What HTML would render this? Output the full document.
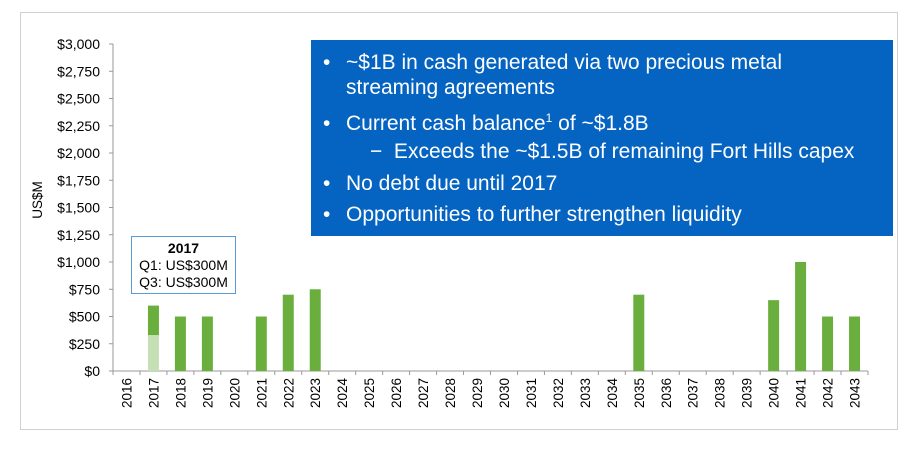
<!DOCTYPE html>
<html><head><meta charset="utf-8"><style>
body{margin:0;width:921px;height:456px;background:#fff;font-family:"Liberation Sans",Arial,sans-serif;overflow:hidden;position:relative}
#frame{position:absolute;left:20px;top:12px;width:876px;height:416px;border:1px solid #d0d0d0}
#info{position:absolute;left:311px;top:40px;width:582px;height:196px;background:#0563c1;color:#fff;font-size:21px;line-height:24px}
#info div{white-space:nowrap;position:absolute}
#info sup{font-size:12px;line-height:0;vertical-align:0;position:relative;top:-8px}
#note{position:absolute;left:131px;top:236px;width:105px;height:58px;border:1px solid #5b9bd5;font-size:14px;text-align:center;line-height:17px;box-sizing:border-box;padding-top:3px}
</style></head><body>
<div id="frame"></div>
<svg id="chart" width="921" height="456" style="position:absolute;left:0;top:0"></svg>
<div id="info">
<div style="left:12px;top:11px">•</div>
<div style="left:35px;top:11px">~$1B in cash generated via two precious metal</div>
<div style="left:35px;top:36px">streaming agreements</div>
<div style="left:12px;top:72px">•</div>
<div style="left:35px;top:72px">Current cash balance<sup>1</sup> of ~$1.8B</div>
<div style="left:59px;top:100px">−&nbsp;&nbsp;Exceeds the ~$1.5B of remaining Fort Hills capex</div>
<div style="left:12px;top:132px">•</div>
<div style="left:35px;top:132px">No debt due until 2017</div>
<div style="left:12px;top:163px">•</div>
<div style="left:35px;top:163px">Opportunities to further strengthen liquidity</div>
</div>
<div id="note"><b>2017</b><br>Q1: US$300M<br>Q3: US$300M</div>
<script>
const categories=["2016","2017","2018","2019","2020","2021","2022","2023","2024","2025","2026","2027","2028","2029","2030","2031","2032","2033","2034","2035","2036","2037","2038","2039","2040","2041","2042","2043"];
const lightValues=[0,330,0,0,0,0,0,0,0,0,0,0,0,0,0,0,0,0,0,0,0,0,0,0,0,0,0,0];
const darkValues=[0,270,500,500,0,500,700,750,0,0,0,0,0,0,0,0,0,0,0,700,0,0,0,0,650,1000,500,500];
const yTicks=[0,250,500,750,1000,1250,1500,1750,2000,2250,2500,2750,3000];
const yLabels=["$0","$250","$500","$750","$1,000","$1,250","$1,500","$1,750","$2,000","$2,250","$2,500","$2,750","$3,000"];
const svg=document.getElementById('chart');const NS='http://www.w3.org/2000/svg';
const x0=113,x1=868,yb=371,yt=44,yMax=3000;
const slot=(x1-x0)/categories.length;
const y=v=>yb-(v/yMax)*(yb-yt);
const xc=i=>x0+slot*(i+0.5);
function mk(t,a){const e=document.createElementNS(NS,t);for(const k in a)e.setAttribute(k,a[k]);svg.appendChild(e);return e;}
let ax=mk('line',{x1:x0,y1:yt,x2:x0,y2:yb,stroke:'#999'});


let bx=mk('line',{x1:x0,y1:yb,x2:x1,y2:yb,stroke:'#999'});


yTicks.forEach((v,i)=>{
 mk('line',{x1:x0-4,y1:y(v),x2:x0,y2:y(v),stroke:'#999'});
 const t=mk('text',{x:x0-13,y:y(v)+5,'text-anchor':'end','font-size':'14',fill:'#000'});
 t.textContent=yLabels[i];
 
 
});
const yt2=mk('text',{x:42,y:200,'font-size':'13.5',transform:'rotate(-90 42 200)','text-anchor':'middle'});
yt2.textContent='US$M';


categories.forEach((c,i)=>{
 const tx=x0+slot*i;
 mk('line',{x1:tx,y1:yb,x2:tx,y2:yb+4,stroke:'#999'});
 const cx=xc(i);
 const t=mk('text',{x:cx+5,y:yb+7,'font-size':'13.5','text-anchor':'end',transform:`rotate(-90 ${cx+5} ${yb+7})`});
 t.textContent=c;
 
 
 const bw=11;
 if(lightValues[i]>0){const r=mk('rect',{x:cx-bw/2,y:y(lightValues[i]),width:bw,height:yb-y(lightValues[i]),fill:'#c5e0b4'});
  
  }
 if(darkValues[i]>0){const base=lightValues[i];const r=mk('rect',{x:cx-bw/2,y:y(base+darkValues[i]),width:bw,height:y(base)-y(base+darkValues[i]),fill:'#6aaf3d'});
  
  }
});
mk('line',{x1:x1,y1:yb,x2:x1,y2:yb+4,stroke:'#999'});
</script>
</body></html>
